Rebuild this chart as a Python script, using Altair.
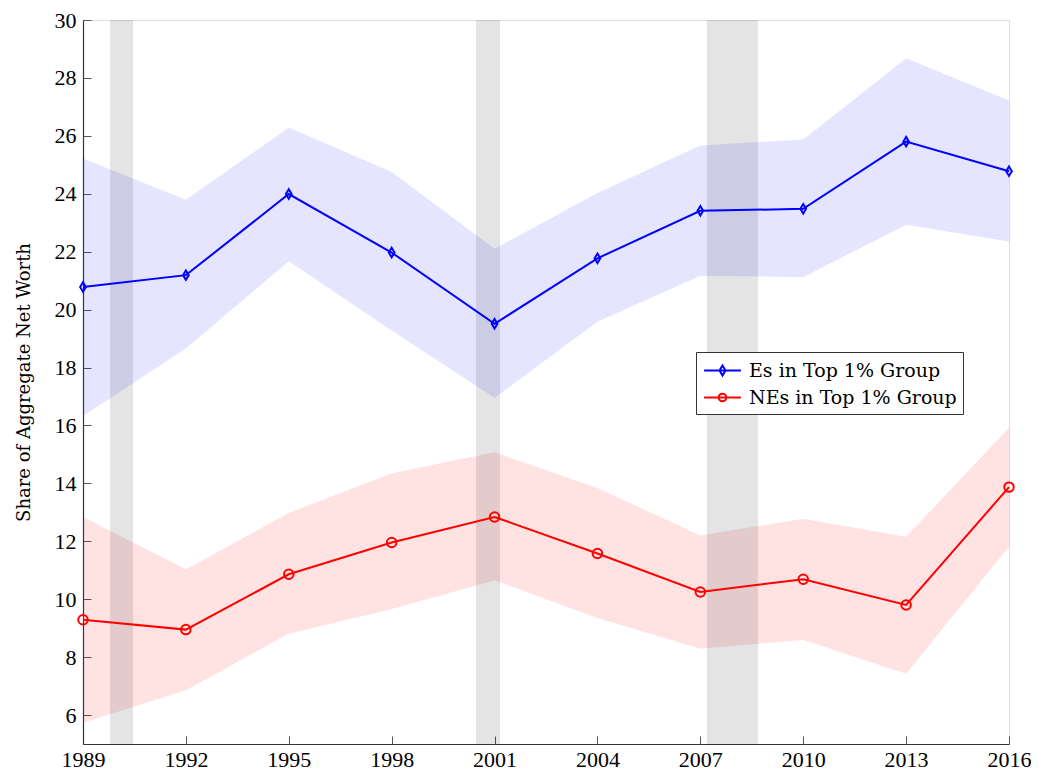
import altair as alt
import pandas as pd

years = [1989, 1992, 1995, 1998, 2001, 2004, 2007, 2010, 2013, 2016]

es_mean = [20.78, 21.19, 23.99, 21.97, 19.51, 21.77, 23.41, 23.48, 25.80, 24.78]
es_lo = [16.33, 18.66, 21.67, 19.28, 16.95, 19.58, 21.17, 21.12, 22.93, 22.35]
es_hi = [25.22, 23.79, 26.29, 24.75, 22.10, 24.03, 25.67, 25.87, 28.68, 27.22]

ne_mean = [9.29, 8.95, 10.86, 11.96, 12.84, 11.58, 10.25, 10.69, 9.80, 13.87]
ne_lo = [5.73, 6.86, 8.81, 9.66, 10.65, 9.35, 8.29, 8.59, 7.43, 11.81]
ne_hi = [12.84, 11.03, 12.98, 14.35, 15.07, 13.84, 12.20, 12.78, 12.16, 15.92]

rec_start = [1989.79, 2000.46, 2007.19]
rec_end = [1990.46, 2001.16, 2008.68]

x_ticks = [1989, 1992, 1995, 1998, 2001, 2004, 2007, 2010, 2013, 2016]
y_ticks = [6, 8, 10, 12, 14, 16, 18, 20, 22, 24, 26, 28, 30]

ES = "Es in Top 1% Group"
NE = "NEs in Top 1% Group"

rows = []
for i, yr in enumerate(years):
    rows.append({"year": yr, "series": ES, "mean": es_mean[i], "lo": es_lo[i], "hi": es_hi[i]})
for i, yr in enumerate(years):
    rows.append({"year": yr, "series": NE, "mean": ne_mean[i], "lo": ne_lo[i], "hi": ne_hi[i]})
df = pd.DataFrame(rows)
df_es = df[df.series == ES]
df_ne = df[df.series == NE]
rec = pd.DataFrame({"start": rec_start, "end": rec_end})

NUMFONT = "Liberation Serif"
TXTFONT = "DejaVu Serif"
W, H = 926, 724

xscale = alt.Scale(domain=[1989, 2016], nice=False, zero=False)
yscale = alt.Scale(domain=[5, 30], nice=False, zero=False)
cscale = alt.Scale(domain=[ES, NE], range=["#0000ff", "#ff0000"])

diamond_leg = "M-1.6,0L1.6,0M0,-0.43L0.26,0L0,0.43L-0.26,0Z"
circle_leg = "M-1.6,0L1.6,0M-0.33,0A0.33,0.33,0,1,1,0.33,0A0.33,0.33,0,1,1,-0.33,0Z"

legend = alt.Legend(
    title=None,
    orient="none",
    legendX=613,
    legendY=332,
    labelFont=TXTFONT,
    labelFontSize=19,
    labelColor="black",
    labelLimit=500,
    symbolSize=529,
    symbolStrokeWidth=2,
    symbolOpacity=1,
    symbolFillColor="transparent",
    symbolOffset=8,
    rowPadding=4,
    labelOffset=14,
    padding=6,
    strokeColor="#333",
    fillColor="white",
    cornerRadius=0,
)

color_enc = alt.Color("series:N", scale=cscale, legend=legend)

band_es = alt.Chart(df_es).mark_area(color="#0000ff", opacity=0.1).encode(
    x=alt.X("year:Q", scale=xscale, axis=None),
    y=alt.Y("lo:Q", scale=yscale, axis=None),
    y2="hi:Q",
)
band_ne = alt.Chart(df_ne).mark_area(color="#ff0000", opacity=0.11).encode(
    x=alt.X("year:Q", scale=xscale, axis=None),
    y=alt.Y("lo:Q", scale=yscale, axis=None),
    y2="hi:Q",
)

bars = alt.Chart(rec).mark_rect(color="black", opacity=0.105).encode(
    x=alt.X("start:Q", scale=xscale, axis=alt.Axis(
        values=x_ticks, format="d", title=None, orient="bottom",
        labelFont=NUMFONT, labelFontSize=22, labelColor="black", labelPadding=5,
        labelFlush=False, labelOverlap=False,
        tickSize=0, domainColor="#333", domainWidth=1.2, grid=False)),
    x2="end:Q",
)

ticks_y = alt.Chart(df).mark_line(opacity=0).encode(
    x=alt.X("year:Q", scale=xscale, axis=None),
    y=alt.Y("mean:Q", scale=yscale, axis=alt.Axis(
        values=y_ticks, title="Share of Aggregate Net Worth", orient="left",
        labelFont=NUMFONT, labelFontSize=22, labelColor="black", labelPadding=7,
        labelFlush=False, labelOverlap=False,
        titleFont=TXTFONT, titleFontSize=18, titleFontWeight="normal", titleColor="black",
        titlePadding=21, tickSize=0, domainColor="#333", domainWidth=1.2, grid=False)),
    detail="series:N",
)
ticks_in_y = alt.Chart(df).mark_line(opacity=0).encode(
    x=alt.X("year:Q", scale=xscale, axis=None),
    y=alt.Y("mean:Q", scale=yscale, axis=alt.Axis(
        values=y_ticks, title=None, orient="right", offset=-W, labels=False,
        domain=False, tickSize=8, tickColor="#555", tickWidth=1, grid=False)),
    detail="series:N",
)
ticks_in_x = alt.Chart(df).mark_line(opacity=0).encode(
    x=alt.X("year:Q", scale=xscale, axis=alt.Axis(
        values=x_ticks, title=None, orient="top", offset=-H, labels=False,
        domain=False, tickSize=8, tickColor="#555", tickWidth=1, grid=False)),
    y=alt.Y("mean:Q", scale=yscale, axis=None),
    detail="series:N",
)

lines = alt.Chart(df).mark_line(strokeWidth=2).encode(
    x=alt.X("year:Q", scale=xscale, axis=None),
    y=alt.Y("mean:Q", scale=yscale, axis=None),
    color=color_enc,
)

points_es = alt.Chart(df_es).mark_point(filled=False, strokeWidth=2, opacity=1, size=90,
                                        shape="M0,-1L0.6,0L0,1L-0.6,0Z").encode(
    x=alt.X("year:Q", scale=xscale, axis=None),
    y=alt.Y("mean:Q", scale=yscale, axis=None),
    color=color_enc,
)
points_ne = alt.Chart(df_ne).mark_point(filled=False, strokeWidth=2, opacity=1, size=90,
                                        shape="circle").encode(
    x=alt.X("year:Q", scale=xscale, axis=None),
    y=alt.Y("mean:Q", scale=yscale, axis=None),
    color=color_enc,
)

legend_layer = alt.Chart(df).mark_point(filled=False, strokeWidth=2, opacity=0, size=529).encode(
    x=alt.X("year:Q", scale=xscale, axis=None),
    y=alt.Y("mean:Q", scale=yscale, axis=None),
    color=color_enc,
    shape=alt.Shape("series:N", scale=alt.Scale(domain=[ES, NE], range=[diamond_leg, circle_leg]), legend=legend),
)

chart = alt.layer(
    band_es, band_ne, bars, ticks_y, ticks_in_y, ticks_in_x, lines, points_es, points_ne, legend_layer
).resolve_axis(x="independent", y="independent").properties(
    width=W,
    height=H,
    autosize=alt.AutoSizeParams(type="none"),
    padding={"left": 75, "top": 12, "right": 22, "bottom": 28},
).configure_view(stroke=None).configure(background="white")

chart.save("out.html", embed_options={"renderer": "svg", "actions": False})
